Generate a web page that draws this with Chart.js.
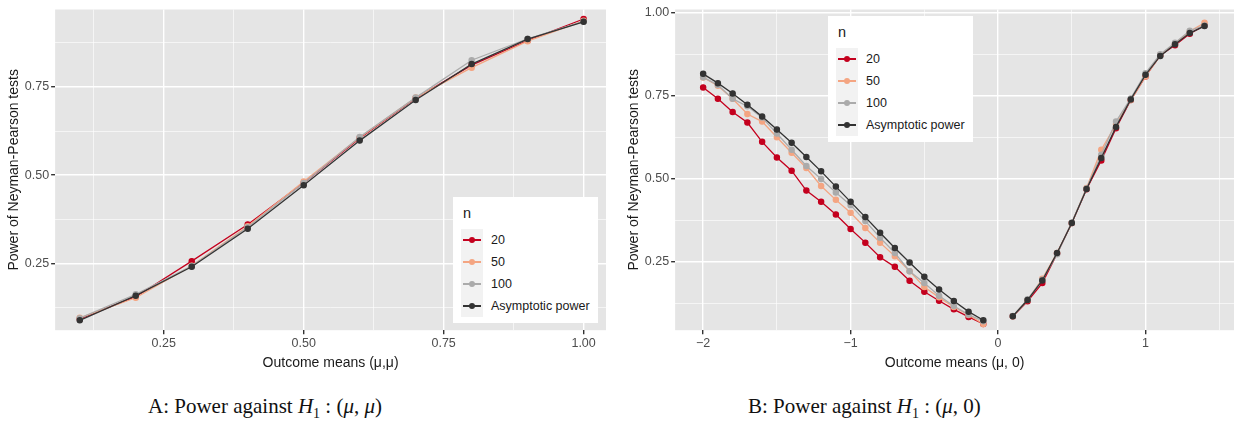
<!DOCTYPE html>
<html><head><meta charset="utf-8">
<script src="https://cdn.jsdelivr.net/npm/chart.js@4"></script>
<style>
body{margin:0;width:1240px;height:426px;background:#fff;position:relative;font-family:"Liberation Sans",Arial,sans-serif;}
.pan{position:absolute;top:0;height:372px;}
.leg{position:absolute;background:#fff;font-size:12.5px;color:#1a1a1a;padding:6px 8px;}
.leg .t{font-size:14.5px;margin:2px 0 8px 2px;}
.leg .r{display:flex;align-items:center;height:22px;}
.leg .k{width:22px;height:22px;background:#f2f2f2;position:relative;margin-right:8px;}
.leg .k:before{content:"";position:absolute;left:2px;right:2px;top:10px;height:1.5px;background:var(--c);}
.leg .k:after{content:"";position:absolute;left:8px;top:8px;width:6px;height:6px;border-radius:50%;background:var(--c);}
.cap{position:absolute;top:394px;font-family:"Liberation Serif",serif;font-size:21px;color:#111;}
</style></head><body>
<div class="pan" style="left:0;width:612px"><canvas id="cA"></canvas></div>
<div class="pan" style="left:620px;width:620px"><canvas id="cB"></canvas></div>
<div class="cap" style="left:148px">A: Power against <i>H</i><sub style="font-size:14px">1</sub> : (<i>μ</i>, <i>μ</i>)</div>
<div class="cap" style="left:748px">B: Power against <i>H</i><sub style="font-size:14px">1</sub> : (<i>μ</i>, 0)</div>
<script>
const seriesNames = ['20', '50', '100', 'Asymptotic power'];
const seriesColors = ['#c4001e', '#f4a582', '#ababab', '#333333'];

// Panel A: outcome means (mu, mu)
const xA = [0.1, 0.2, 0.3, 0.4, 0.5, 0.6, 0.7, 0.8, 0.9, 1.0];
const a20 = [0.092, 0.155, 0.256, 0.360, 0.478, 0.605, 0.718, 0.812, 0.882, 0.943];
const a50 = [0.095, 0.152, 0.243, 0.355, 0.482, 0.607, 0.720, 0.805, 0.880, 0.938];
const a100 = [0.094, 0.162, 0.242, 0.352, 0.478, 0.608, 0.720, 0.826, 0.887, 0.936];
const aAsy = [0.088, 0.158, 0.240, 0.348, 0.471, 0.598, 0.713, 0.815, 0.886, 0.935];

// Panel B: outcome means (mu, 0)
const xBneg = [-2.0,-1.9,-1.8,-1.7,-1.6,-1.5,-1.4,-1.3,-1.2,-1.1,-1.0,-0.9,-0.8,-0.7,-0.6,-0.5,-0.4,-0.3,-0.2,-0.1];
const xBpos = [0.1,0.2,0.3,0.4,0.5,0.6,0.7,0.8,0.9,1.0,1.1,1.2,1.3,1.4];
const b20 = [0.775,0.741,0.701,0.669,0.611,0.564,0.524,0.464,0.430,0.392,0.348,0.307,0.263,0.234,0.192,0.159,0.132,0.106,0.083,0.062,
             0.085,0.130,0.185,0.274,0.366,0.468,0.555,0.652,0.737,0.808,0.872,0.902,0.937,0.962];
const b50 = [0.805,0.780,0.741,0.695,0.672,0.625,0.578,0.532,0.478,0.436,0.397,0.351,0.307,0.266,0.221,0.173,0.142,0.113,0.089,0.062,
             0.085,0.134,0.198,0.276,0.366,0.472,0.587,0.664,0.737,0.808,0.872,0.907,0.944,0.970];
const b100 = [0.806,0.782,0.741,0.718,0.684,0.636,0.587,0.538,0.499,0.458,0.420,0.372,0.322,0.276,0.221,0.185,0.147,0.116,0.090,0.070,
              0.086,0.136,0.195,0.272,0.368,0.470,0.572,0.672,0.742,0.818,0.875,0.910,0.946,0.962];
const bAsy = [0.816,0.788,0.757,0.723,0.687,0.648,0.608,0.565,0.522,0.476,0.430,0.384,0.337,0.291,0.247,0.204,0.166,0.131,0.099,0.073,
              0.085,0.134,0.193,0.276,0.366,0.469,0.562,0.656,0.739,0.813,0.870,0.905,0.939,0.960];

function pts(xs, ys){ return xs.map((x,i)=>({x:x, y:ys[i]})); }
function ptsB(ys){
  const xs = xBneg.concat([0], xBpos);
  const v = ys.slice(0, xBneg.length).concat([null], ys.slice(xBneg.length));
  return pts(xs, v);
}
function sets(list){
  return list.map((d,i)=>({label:seriesNames[i], data:d, borderColor:seriesColors[i], backgroundColor:seriesColors[i],
    order: list.length - i,
    borderWidth:1.3, pointRadius:2.6, pointHoverRadius:2.6, spanGaps:false, tension:0}));
}
const tickFont = {family:'Liberation Sans', size:12.5};
function axis(min, max, ticks, major, title, fmt){
  const isMajor = v => major.some(m=>Math.abs(m-v)<1e-9);
  return {type:'linear', min:min, max:max,
    afterBuildTicks: s => { s.ticks = ticks.map(v=>({value:v})); },
    grid:{color:'#ffffff', lineWidth: c => isMajor(c.tick.value) ? 1.4 : 0.6, drawTicks:true, tickLength:4,
      tickColor: c => isMajor(c.tick.value) ? '#333' : 'rgba(0,0,0,0)'},
    border:{display:false},
    ticks:{color:'#4d4d4d', font:tickFont, padding:2, autoSkip:false, maxRotation:0,
      callback: v => isMajor(v) ? fmt(v) : ''},
    title:{display:true, text:title, color:'#1a1a1a', font:{family:'Liberation Sans', size:14}, padding:{top:2,bottom:0}}};
}
const bgPlugin = {id:'bg', beforeDraw(c){ const a=c.chartArea, x=c.ctx; x.save(); x.fillStyle='#e5e5e5'; x.fillRect(a.left,a.top,a.right-a.left,a.bottom-a.top); x.restore(); }};
function opts(xs, ys){
  return {responsive:true, maintainAspectRatio:false, animation:false,
    layout:{padding:{top:6,right:6,left:4,bottom:0}},
    plugins:{legend:{display:false}, tooltip:{enabled:false}},
    scales:{x:xs, y:ys}};
}
const f2 = v => v.toFixed(2);
new Chart(document.getElementById('cA'), {type:'line', plugins:[bgPlugin],
  data:{datasets:sets([pts(xA,a20), pts(xA,a50), pts(xA,a100), pts(xA,aAsy)])},
  options:opts(
    axis(0.056, 1.04, [0.125,0.25,0.375,0.5,0.625,0.75,0.875,1.0], [0.25,0.5,0.75,1.0], 'Outcome means (μ,μ)', f2),
    axis(0.06, 0.97, [0.125,0.25,0.375,0.5,0.625,0.75,0.875], [0.25,0.5,0.75], 'Power of Neyman-Pearson tests', f2))});
new Chart(document.getElementById('cB'), {type:'line', plugins:[bgPlugin],
  data:{datasets:sets([ptsB(b20), ptsB(b50), ptsB(b100), ptsB(bAsy)])},
  options:opts(
    axis(-2.19, 1.6, [-2,-1.5,-1,-0.5,0,0.5,1,1.5], [-2,-1,0,1], 'Outcome means (μ, 0)', v=>String(v).replace('-','−')),
    axis(0.043, 1.01, [0.125,0.25,0.375,0.5,0.625,0.75,0.875,1.0], [0.25,0.5,0.75,1.0], 'Power of Neyman-Pearson tests', f2))});

function legend(left, top){
  const d = document.createElement('div'); d.className='leg'; d.style.left=left+'px'; d.style.top=top+'px';
  d.innerHTML = '<div class="t">n</div>' + seriesNames.map((n,i)=>'<div class="r"><span class="k" style="--c:'+seriesColors[i]+'"></span>'+n+'</div>').join('');
  document.body.appendChild(d);
}
legend(453, 197);
legend(828, 16);
</script>
</body></html>
